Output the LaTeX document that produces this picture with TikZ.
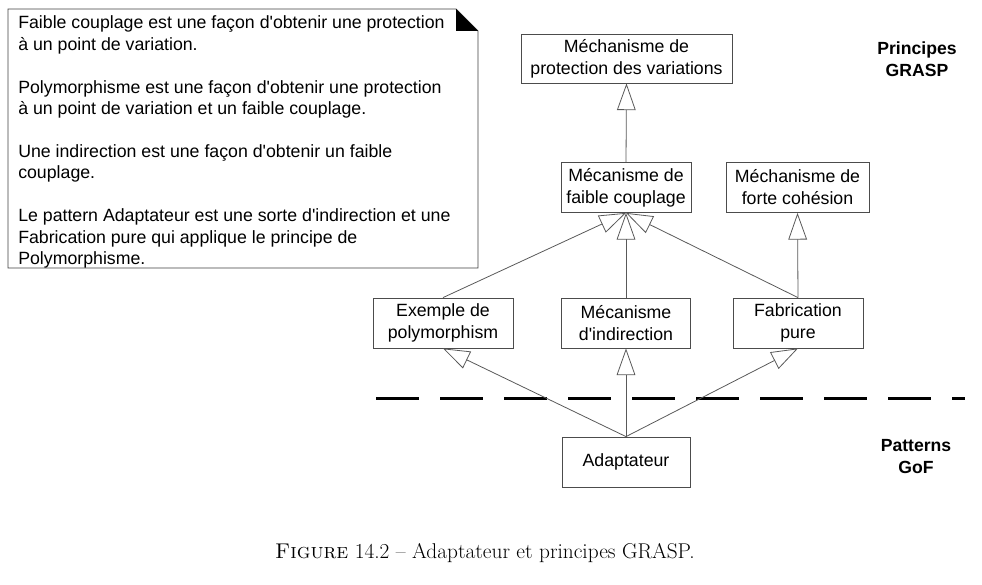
\documentclass[tikz,border=0pt]{standalone}
\usepackage{fontspec}
\newfontfamily\arial{Liberation Sans}
\usetikzlibrary{arrows.meta}
\begin{document}
\begin{tikzpicture}[x=0.75pt,y=-0.75pt,
  box/.style={draw=black!70, line width=0.6pt, fill=white, inner sep=0pt, align=center,
    font=\arial\fontsize{13.3}{16.5}\selectfont, minimum height=37.5pt},
  gen/.style={draw=black!65, line width=0.6pt, -{Triangle[open, length=20pt, width=14pt]}},
  lbl/.style={font=\arial\bfseries\fontsize{13.2}{16.5}\selectfont, align=center},
  sep/.style={draw=black, line width=2.25pt, dash pattern=on 32.25pt off 15.75pt}]
\useasboundingbox (0,0) rectangle (982,585);

% note
\draw[draw=black!75, line width=0.6pt, fill=white] (8,9) -- (456,9) -- (478,31) -- (478,268) -- (8,268) -- cycle;
\fill[black] (456,9) -- (478,31) -- (456,31) -- cycle;
\node[anchor=north west, inner sep=0pt, align=left, font=\arial\fontsize{13.3}{16.1}\selectfont] (notetext) at (18,15.5)
 {Faible couplage est une façon d'obtenir une protection\\
  à un point de variation.\\[16.1pt]
  Polymorphisme est une façon d'obtenir une protection\\
  à un point de variation et un faible couplage.\\[16.1pt]
  Une indirection est une façon d'obtenir un faible\\
  couplage.\\[16.1pt]
  Le pattern Adaptateur est une sorte d'indirection et une\\
  Fabrication pure qui applique le principe de\\
  Polymorphisme.};

% separator
\coordinate (dl) at (376,398);
\coordinate (dr) at (965,398);
\draw[sep] (dl) -- (dr);

% boxes
\node[box, minimum width=158.25pt, minimum height=36.75pt] (prot) at (626.5,58.5) {Méchanisme de\\protection des variations};
\node[box, minimum width=97.5pt] (faible) at (626,187.5) {Mécanisme de\\faible couplage};
\node[box, minimum width=107.25pt] (forte) at (797.5,187.5) {Méchanisme de\\forte cohésion};
\node[box, minimum width=105pt] (poly) at (443,323) {Exemple de\\polymorphism};
\node[box, minimum width=96.75pt] (indir) at (626,323) {Mécanisme\\d'indirection};
\node[box, minimum width=97.5pt] (fab) at (798,323) {Fabrication\\pure};
\node[box, minimum width=96pt] (adapt) at (626,462) {Adaptateur};

% generalizations
\draw[gen] (adapt.north) -- (poly.south);
\draw[gen] (adapt.north) -- (indir.south);
\draw[gen] (adapt.north) -- (fab.south);
\draw[gen] (poly.north) -- (faible.south);
\draw[gen] (indir.north) -- (faible.south);
\draw[gen] (fab.north) -- (faible.south);
\draw[gen] (fab.north) -- (forte.south);
\draw[gen] (faible.north) -- (prot.south);

% labels
\node[lbl] (grasp) at (917,59) {Principes\\GRASP};
\node[lbl] (gof) at (916,457) {Patterns\\GoF};

% caption
\node[font=\fontsize{16}{19}\selectfont] (cap) at (485,553) {\textsc{Figure} 14.2 -- Adaptateur et principes GRASP.};
\end{tikzpicture}
\end{document}
